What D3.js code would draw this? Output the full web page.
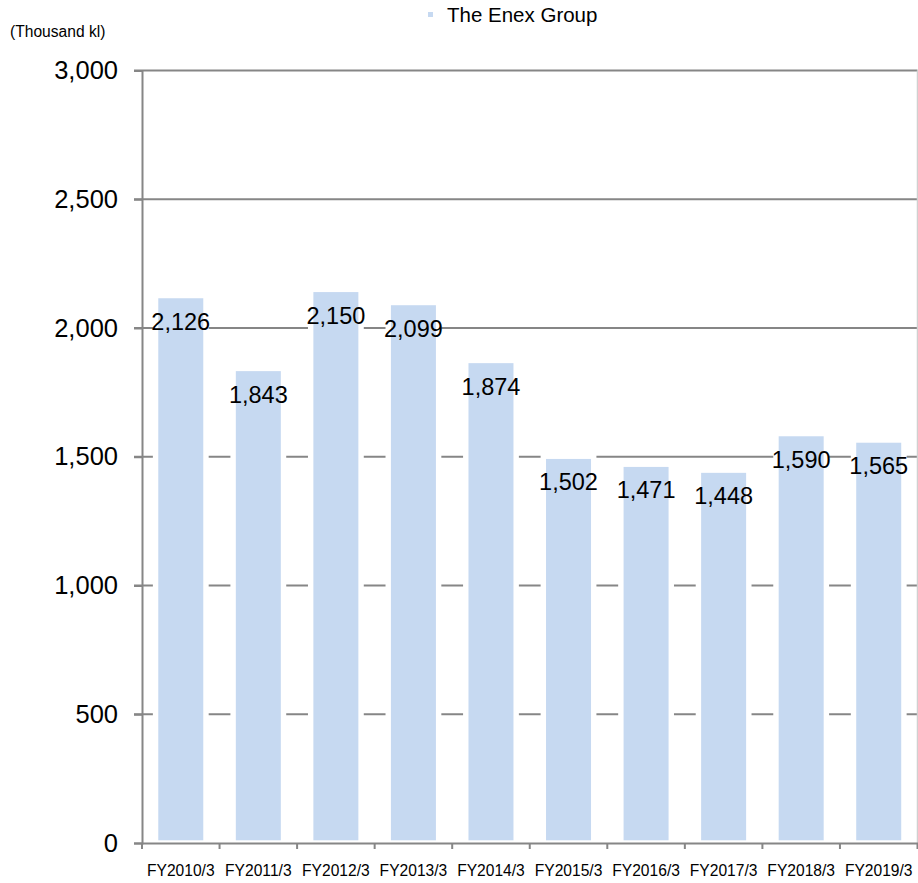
<!DOCTYPE html>
<html>
<head>
<meta charset="utf-8">
<script src="https://cdn.jsdelivr.net/npm/d3@7"></script>
<style>
  html, body { margin: 0; padding: 0; background: #fff; }
  svg { display: block; font-family: "Liberation Sans", Arial, sans-serif; }
</style>
</head>
<body>
<svg id="chart" width="918" height="883"></svg>
<script>
const categories = ["FY2010/3","FY2011/3","FY2012/3","FY2013/3","FY2014/3","FY2015/3","FY2016/3","FY2017/3","FY2018/3","FY2019/3"];
const values = [2126, 1843, 2150, 2099, 1874, 1502, 1471, 1448, 1590, 1565];
const yTicks = [0, 500, 1000, 1500, 2000, 2500, 3000];
const seriesName = "The Enex Group";
const unitLabel = "(Thousand kl)";

(function () {
const svg = d3.select("#chart");
const mLeft = 142, mRight = 917.5, mTop = 70.5, mBottom = 843;
const barColor = "#C6D9F1", gridColor = "#868686";

const x = d3.scaleBand().domain(categories).range([mLeft, mRight]).paddingInner(0.35).paddingOuter(0.175);
const y = d3.scaleLinear().domain([0, 3000]).range([mBottom, mTop]);

// gridlines
svg.append("g").selectAll("line").data(yTicks.filter(d => d > 0)).join("line")
  .attr("x1", mLeft - 8).attr("x2", mRight)
  .attr("y1", d => y(d)).attr("y2", d => y(d))
  .attr("stroke", gridColor).attr("stroke-width", 2);

// right border
svg.append("line").attr("x1", mRight).attr("x2", mRight).attr("y1", mTop).attr("y2", mBottom)
  .attr("stroke", "#d0d0d0").attr("stroke-width", 1.5);

// bars
svg.append("g").selectAll("rect").data(values).join("rect")
  .attr("x", (d, i) => x(categories[i]))
  .attr("width", x.bandwidth())
  .attr("y", d => y(d))
  .attr("height", d => mBottom - y(d))
  .attr("fill", barColor)
  .attr("stroke", "#fff").attr("stroke-width", 5.4);

// y axis
const yAxis = d3.axisLeft(y).tickValues(yTicks).tickSize(8).tickPadding(16)
  .tickFormat(d3.format(","));
const gy = svg.append("g").attr("transform", `translate(${mLeft},0)`).call(yAxis);
gy.select(".domain").attr("stroke", gridColor).attr("stroke-width", 2);
gy.selectAll(".tick line").attr("stroke", gridColor).attr("stroke-width", 2);
gy.selectAll(".tick text").attr("font-size", "25.5px").attr("fill", "#000")
  .attr("font-family", "'Liberation Sans', Arial, sans-serif");

// x axis
const xAxis = d3.axisBottom(x).tickSize(0).tickPadding(22);
const gx = svg.append("g").attr("transform", `translate(0,${mBottom})`).call(xAxis);
gx.select(".domain").attr("stroke", gridColor).attr("stroke-width", 2);
gx.selectAll(".tick text").attr("font-size", "15.6px").attr("fill", "#000")
  .attr("font-family", "'Liberation Sans', Arial, sans-serif");
// category boundary ticks
const bounds = categories.map(c => x(c) - x.step() * x.paddingInner() / 2);
bounds.push(mRight);
svg.append("g").selectAll("line").data(bounds).join("line")
  .attr("x1", d => d).attr("x2", d => d)
  .attr("y1", mBottom).attr("y2", mBottom + 6)
  .attr("stroke", gridColor).attr("stroke-width", 2);

// data labels
svg.append("g").selectAll("text").data(values).join("text")
  .attr("x", (d, i) => x(categories[i]) + x.bandwidth() / 2)
  .attr("y", d => y(d) + 26)
  .attr("dy", "0.35em")
  .attr("text-anchor", "middle")
  .attr("font-size", "23.5px")
  .attr("fill", "#000")
  .text(d => d3.format(",")(d));

// unit label
svg.append("text").attr("x", 10).attr("y", 37).attr("font-size", "15.6px").attr("fill", "#000").text(unitLabel);

// legend
svg.append("rect").attr("x", 428).attr("y", 12).attr("width", 5).attr("height", 5).attr("fill", barColor);
svg.append("text").attr("x", 447).attr("y", 22).attr("font-size", "20.5px").attr("fill", "#000").text(seriesName);
})();
</script>
</body>
</html>
